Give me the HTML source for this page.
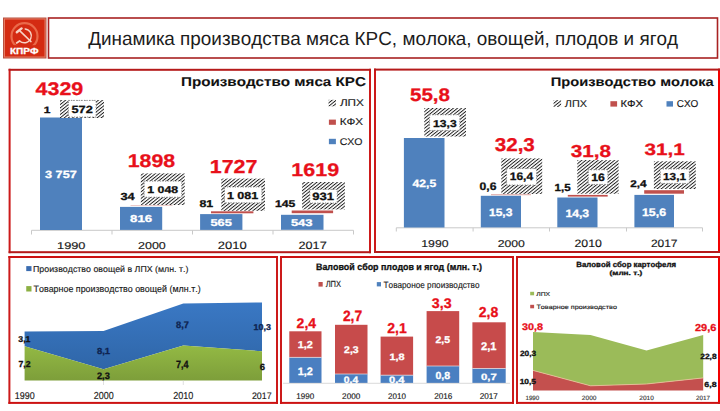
<!DOCTYPE html>
<html><head><meta charset="utf-8"><style>
html,body{margin:0;padding:0;background:#fff;width:720px;height:411px;overflow:hidden}
svg{display:block}
text{font-family:"Liberation Sans",sans-serif;font-kerning:none;text-rendering:geometricPrecision}
</style></head><body>
<svg width="720" height="411" viewBox="0 0 720 411">
<rect width="720" height="411" fill="#fff"/>
<rect x="3.00" y="17.50" width="43.50" height="41.00" fill="#b9503f"/>
<rect x="4.00" y="18.50" width="41.50" height="39.00" fill="#e77a62"/>
<rect x="5.00" y="19.50" width="39.50" height="37.00" fill="#d42b12"/>
<circle cx="24.5" cy="36.2" r="13" fill="none" stroke="#ea6a4a" stroke-width="2.2"/>
<rect x="6.00" y="45.20" width="37.00" height="10.80" fill="#d42b12"/>
<g stroke="#f7d3c5" fill="none" stroke-linecap="round"><path d="M16.8 32.2 L21.6 28.4" stroke-width="2.4"/><path d="M19.6 30.6 L31 41.6" stroke-width="1.5"/><path d="M25.2 28.9 A 7 7 0 1 1 19.6 41" stroke-width="1.5"/><path d="M19.6 41 L16.6 43" stroke-width="1.6"/></g>
<text x="10.03" y="53.70" font-size="8.84" font-weight="bold" fill="#ffffff" textLength="28.52" lengthAdjust="spacingAndGlyphs" stroke="#ffffff" stroke-width="0.3">КПРФ</text>
<rect x="48.50" y="18.00" width="669.00" height="40.00" fill="none" stroke="#a82222" stroke-width="1.6"/>
<text x="88.16" y="45.40" font-size="18.99" font-weight="normal" fill="#1c1c1c" textLength="589.96" lengthAdjust="spacingAndGlyphs" stroke="none">Динамика производства мяса КРС, молока, овощей, плодов и ягод</text>
<rect x="8.60" y="68.80" width="2.00" height="184.40" fill="#cc1a1a"/>
<rect x="369.00" y="68.80" width="2.00" height="184.40" fill="#cc1a1a"/>
<rect x="8.60" y="68.80" width="362.40" height="2.00" fill="#b51a1a"/>
<rect x="8.60" y="251.20" width="362.40" height="2.00" fill="#b51a1a"/>
<rect x="374.00" y="68.60" width="2.00" height="184.40" fill="#cc1a1a"/>
<rect x="718.00" y="68.60" width="2.00" height="184.40" fill="#f20000"/>
<rect x="374.00" y="68.60" width="346.00" height="2.00" fill="#b51a1a"/>
<rect x="374.00" y="251.00" width="346.00" height="2.00" fill="#b51a1a"/>
<rect x="8.40" y="256.00" width="2.00" height="147.90" fill="#cc1a1a"/>
<rect x="276.00" y="256.00" width="2.00" height="147.90" fill="#cc1a1a"/>
<rect x="8.40" y="256.00" width="269.60" height="2.00" fill="#cc1212"/>
<rect x="8.40" y="401.90" width="269.60" height="2.00" fill="#cc1212"/>
<rect x="280.00" y="256.00" width="2.00" height="147.90" fill="#cc1a1a"/>
<rect x="512.00" y="256.00" width="2.00" height="147.90" fill="#cc1a1a"/>
<rect x="280.00" y="256.00" width="234.00" height="2.00" fill="#cc1212"/>
<rect x="280.00" y="401.90" width="234.00" height="2.00" fill="#cc1212"/>
<rect x="516.00" y="256.00" width="2.00" height="147.90" fill="#cc1a1a"/>
<rect x="718.00" y="256.00" width="2.00" height="147.90" fill="#f20000"/>
<rect x="516.00" y="256.00" width="204.00" height="2.00" fill="#cc1212"/>
<rect x="516.00" y="401.90" width="204.00" height="2.00" fill="#cc1212"/>
<defs><pattern id="hp" width="2.58" height="20" patternUnits="userSpaceOnUse" patternTransform="rotate(51)"><rect width="0.95" height="20" fill="#1c1c1c"/></pattern></defs>
<text x="180.98" y="86.40" font-size="12.75" font-weight="bold" fill="#111" textLength="184.93" lengthAdjust="spacingAndGlyphs" stroke="#111" stroke-width="0.1">Производство мяса КРС</text>
<rect x="328.50" y="99.80" width="7.50" height="6.50" fill="#ffffff"/>
<rect x="328.50" y="99.80" width="7.50" height="6.50" fill="url(#hp)"/>
<rect x="328.50" y="99.80" width="7.50" height="6.50" fill="#fff" opacity="0"/>
<text x="339.90" y="106.30" font-size="9.86" font-weight="normal" fill="#1a1a1a" textLength="24.05" lengthAdjust="spacingAndGlyphs" stroke="#1a1a1a" stroke-width="0.15">ЛПХ</text>
<rect x="328.90" y="119.60" width="7.00" height="5.20" fill="#c0504d"/>
<text x="339.74" y="125.40" font-size="9.71" font-weight="normal" fill="#1a1a1a" textLength="23.40" lengthAdjust="spacingAndGlyphs" stroke="#1a1a1a" stroke-width="0.15">КФХ</text>
<rect x="328.90" y="138.80" width="7.00" height="5.40" fill="#4f81bd"/>
<text x="339.66" y="144.80" font-size="9.71" font-weight="normal" fill="#1a1a1a" textLength="22.84" lengthAdjust="spacingAndGlyphs" stroke="#1a1a1a" stroke-width="0.15">СХО</text>
<line x1="31.50" y1="230.30" x2="353.50" y2="230.30" stroke="#c9c9c9" stroke-width="1"/>
<line x1="31.50" y1="230.30" x2="31.50" y2="234.50" stroke="#c9c9c9" stroke-width="1"/>
<line x1="112.00" y1="230.30" x2="112.00" y2="234.50" stroke="#c9c9c9" stroke-width="1"/>
<line x1="192.50" y1="230.30" x2="192.50" y2="234.50" stroke="#c9c9c9" stroke-width="1"/>
<line x1="273.00" y1="230.30" x2="273.00" y2="234.50" stroke="#c9c9c9" stroke-width="1"/>
<line x1="353.50" y1="230.30" x2="353.50" y2="234.50" stroke="#c9c9c9" stroke-width="1"/>
<rect x="40.00" y="117.50" width="42.00" height="112.50" fill="#4f81bd"/>
<rect x="60.00" y="100.00" width="44.00" height="18.00" fill="#ffffff"/>
<rect x="60.00" y="100.00" width="44.00" height="18.00" fill="url(#hp)"/>
<rect x="68.40" y="100.40" width="27.60" height="16.60" fill="#ffffff" stroke="#7a7a7a" stroke-width="0.9" stroke-dasharray="1.1 1.5"/>
<text x="71.51" y="113.10" font-size="10.43" font-weight="bold" fill="#111" textLength="21.30" lengthAdjust="spacingAndGlyphs" stroke="#111" stroke-width="0.3">572</text>
<text x="43.84" y="113.30" font-size="9.28" font-weight="bold" fill="#111" textLength="6.69" lengthAdjust="spacingAndGlyphs" stroke="#111" stroke-width="0.3">1</text>
<text x="45.01" y="177.90" font-size="10.43" font-weight="bold" fill="#fff" textLength="31.75" lengthAdjust="spacingAndGlyphs" stroke="#fff" stroke-width="0.3">3 757</text>
<text x="35.58" y="95.00" font-size="18.26" font-weight="bold" fill="#e8101a" textLength="47.72" lengthAdjust="spacingAndGlyphs" stroke="#e8101a" stroke-width="0.3">4329</text>
<rect x="120.00" y="206.90" width="42.20" height="23.00" fill="#4f81bd"/>
<rect x="130.50" y="205.00" width="42.00" height="1.00" fill="#c0504d" opacity="0.3"/>
<rect x="140.80" y="173.40" width="43.90" height="31.60" fill="#ffffff"/>
<rect x="140.80" y="173.40" width="43.90" height="31.60" fill="url(#hp)"/>
<rect x="144.20" y="181.10" width="37.50" height="16.10" fill="#ffffff" stroke="#7a7a7a" stroke-width="0.9" stroke-dasharray="1.1 1.5"/>
<text x="147.32" y="192.80" font-size="9.86" font-weight="bold" fill="#111" textLength="30.86" lengthAdjust="spacingAndGlyphs" stroke="#111" stroke-width="0.3">1 048</text>
<text x="120.51" y="199.70" font-size="10.29" font-weight="bold" fill="#111" textLength="14.16" lengthAdjust="spacingAndGlyphs" stroke="#111" stroke-width="0.3">34</text>
<text x="130.08" y="222.00" font-size="10.00" font-weight="bold" fill="#fff" textLength="22.10" lengthAdjust="spacingAndGlyphs" stroke="#fff" stroke-width="0.3">816</text>
<text x="127.76" y="166.70" font-size="18.41" font-weight="bold" fill="#e8101a" textLength="47.40" lengthAdjust="spacingAndGlyphs" stroke="#e8101a" stroke-width="0.3">1898</text>
<rect x="200.10" y="214.10" width="42.30" height="15.80" fill="#4f81bd"/>
<rect x="211.00" y="211.30" width="42.40" height="2.00" fill="#c0504d"/>
<rect x="221.30" y="178.60" width="43.70" height="32.20" fill="#ffffff"/>
<rect x="221.30" y="178.60" width="43.70" height="32.20" fill="url(#hp)"/>
<rect x="224.50" y="187.00" width="37.30" height="15.80" fill="#ffffff" stroke="#7a7a7a" stroke-width="0.9" stroke-dasharray="1.1 1.5"/>
<text x="226.91" y="198.80" font-size="10.14" font-weight="bold" fill="#111" textLength="31.34" lengthAdjust="spacingAndGlyphs" stroke="#111" stroke-width="0.3">1 081</text>
<text x="199.41" y="206.50" font-size="9.86" font-weight="bold" fill="#111" textLength="13.74" lengthAdjust="spacingAndGlyphs" stroke="#111" stroke-width="0.3">81</text>
<text x="210.40" y="225.70" font-size="10.00" font-weight="bold" fill="#fff" textLength="21.45" lengthAdjust="spacingAndGlyphs" stroke="#fff" stroke-width="0.3">565</text>
<text x="209.75" y="173.00" font-size="18.84" font-weight="bold" fill="#e8101a" textLength="47.69" lengthAdjust="spacingAndGlyphs" stroke="#e8101a" stroke-width="0.3">1727</text>
<rect x="281.00" y="214.80" width="42.50" height="15.00" fill="#4f81bd"/>
<rect x="291.70" y="210.50" width="41.40" height="2.70" fill="#c0504d"/>
<rect x="302.10" y="182.00" width="42.80" height="27.40" fill="#ffffff"/>
<rect x="302.10" y="182.00" width="42.80" height="27.40" fill="url(#hp)"/>
<rect x="309.80" y="189.50" width="27.40" height="13.50" fill="#ffffff" stroke="#7a7a7a" stroke-width="0.9" stroke-dasharray="1.1 1.5"/>
<text x="312.15" y="199.70" font-size="10.58" font-weight="bold" fill="#111" textLength="21.82" lengthAdjust="spacingAndGlyphs" stroke="#111" stroke-width="0.3">931</text>
<text x="275.03" y="206.60" font-size="9.71" font-weight="bold" fill="#111" textLength="20.41" lengthAdjust="spacingAndGlyphs" stroke="#111" stroke-width="0.3">145</text>
<text x="290.90" y="225.50" font-size="9.71" font-weight="bold" fill="#fff" textLength="21.67" lengthAdjust="spacingAndGlyphs" stroke="#fff" stroke-width="0.3">543</text>
<text x="291.35" y="175.90" font-size="18.41" font-weight="bold" fill="#e8101a" textLength="47.75" lengthAdjust="spacingAndGlyphs" stroke="#e8101a" stroke-width="0.3">1619</text>
<text x="57.02" y="248.70" font-size="9.86" font-weight="normal" fill="#1a1a1a" textLength="28.47" lengthAdjust="spacingAndGlyphs" stroke="#1a1a1a" stroke-width="0.15">1990</text>
<text x="137.97" y="248.60" font-size="10.00" font-weight="normal" fill="#1a1a1a" textLength="27.82" lengthAdjust="spacingAndGlyphs" stroke="#1a1a1a" stroke-width="0.15">2000</text>
<text x="217.85" y="249.00" font-size="10.72" font-weight="normal" fill="#1a1a1a" textLength="28.96" lengthAdjust="spacingAndGlyphs" stroke="#1a1a1a" stroke-width="0.15">2010</text>
<text x="298.56" y="249.00" font-size="10.72" font-weight="normal" fill="#1a1a1a" textLength="28.17" lengthAdjust="spacingAndGlyphs" stroke="#1a1a1a" stroke-width="0.15">2017</text>
<text x="550.77" y="86.20" font-size="12.46" font-weight="bold" fill="#111" textLength="162.94" lengthAdjust="spacingAndGlyphs" stroke="#111" stroke-width="0.1">Производство молока</text>
<rect x="553.60" y="100.10" width="7.50" height="6.90" fill="#ffffff"/>
<rect x="553.60" y="100.10" width="7.50" height="6.90" fill="url(#hp)"/>
<text x="564.80" y="107.20" font-size="9.86" font-weight="normal" fill="#1a1a1a" textLength="22.17" lengthAdjust="spacingAndGlyphs" stroke="#1a1a1a" stroke-width="0.15">ЛПХ</text>
<rect x="610.40" y="101.20" width="6.70" height="5.40" fill="#c0504d"/>
<text x="620.48" y="107.30" font-size="10.00" font-weight="normal" fill="#1a1a1a" textLength="22.56" lengthAdjust="spacingAndGlyphs" stroke="#1a1a1a" stroke-width="0.15">КФХ</text>
<rect x="666.50" y="101.20" width="6.50" height="5.40" fill="#4f81bd"/>
<text x="676.69" y="107.30" font-size="10.00" font-weight="normal" fill="#1a1a1a" textLength="21.58" lengthAdjust="spacingAndGlyphs" stroke="#1a1a1a" stroke-width="0.15">СХО</text>
<line x1="396.30" y1="227.80" x2="702.50" y2="227.80" stroke="#c9c9c9" stroke-width="1"/>
<line x1="396.30" y1="227.80" x2="396.30" y2="231.50" stroke="#c9c9c9" stroke-width="1"/>
<line x1="473.10" y1="227.80" x2="473.10" y2="231.50" stroke="#c9c9c9" stroke-width="1"/>
<line x1="549.50" y1="227.80" x2="549.50" y2="231.50" stroke="#c9c9c9" stroke-width="1"/>
<line x1="626.50" y1="227.80" x2="626.50" y2="231.50" stroke="#c9c9c9" stroke-width="1"/>
<line x1="702.50" y1="227.80" x2="702.50" y2="231.50" stroke="#c9c9c9" stroke-width="1"/>
<rect x="403.90" y="138.00" width="40.60" height="89.50" fill="#4f81bd"/>
<rect x="424.30" y="108.00" width="41.70" height="28.50" fill="#ffffff"/>
<rect x="424.30" y="108.00" width="41.70" height="28.50" fill="url(#hp)"/>
<rect x="429.60" y="114.80" width="30.20" height="15.60" fill="#ffffff" stroke="#7a7a7a" stroke-width="0.9" stroke-dasharray="1.1 1.5"/>
<text x="433.04" y="126.80" font-size="10.00" font-weight="bold" fill="#111" textLength="23.60" lengthAdjust="spacingAndGlyphs" stroke="#111" stroke-width="0.3">13,3</text>
<text x="412.62" y="186.70" font-size="10.58" font-weight="bold" fill="#fff" textLength="23.62" lengthAdjust="spacingAndGlyphs" stroke="#fff" stroke-width="0.3">42,5</text>
<text x="409.97" y="101.00" font-size="18.12" font-weight="bold" fill="#e8101a" textLength="40.07" lengthAdjust="spacingAndGlyphs" stroke="#e8101a" stroke-width="0.3">55,8</text>
<rect x="480.80" y="195.80" width="40.20" height="31.60" fill="#4f81bd"/>
<rect x="491.00" y="194.20" width="40.00" height="1.00" fill="#c0504d" opacity="0.5"/>
<rect x="501.30" y="158.40" width="40.90" height="35.50" fill="#ffffff"/>
<rect x="501.30" y="158.40" width="40.90" height="35.50" fill="url(#hp)"/>
<rect x="506.60" y="168.60" width="30.00" height="16.40" fill="#ffffff" stroke="#7a7a7a" stroke-width="0.9" stroke-dasharray="1.1 1.5"/>
<text x="509.75" y="180.40" font-size="10.87" font-weight="bold" fill="#111" textLength="23.32" lengthAdjust="spacingAndGlyphs" stroke="#111" stroke-width="0.3">16,4</text>
<text x="479.62" y="189.70" font-size="10.87" font-weight="bold" fill="#111" textLength="16.92" lengthAdjust="spacingAndGlyphs" stroke="#111" stroke-width="0.3">0,6</text>
<text x="488.99" y="215.70" font-size="10.72" font-weight="bold" fill="#fff" textLength="23.44" lengthAdjust="spacingAndGlyphs" stroke="#fff" stroke-width="0.3">15,3</text>
<text x="494.73" y="150.60" font-size="18.55" font-weight="bold" fill="#e8101a" textLength="40.12" lengthAdjust="spacingAndGlyphs" stroke="#e8101a" stroke-width="0.3">32,3</text>
<rect x="557.30" y="197.50" width="40.20" height="29.80" fill="#4f81bd"/>
<rect x="567.80" y="194.90" width="39.90" height="1.70" fill="#c0504d"/>
<rect x="577.30" y="160.10" width="41.30" height="33.60" fill="#ffffff"/>
<rect x="577.30" y="160.10" width="41.30" height="33.60" fill="url(#hp)"/>
<rect x="588.30" y="169.80" width="19.50" height="14.60" fill="#ffffff" stroke="#7a7a7a" stroke-width="0.9" stroke-dasharray="1.1 1.5"/>
<text x="591.22" y="181.30" font-size="10.72" font-weight="bold" fill="#111" textLength="13.72" lengthAdjust="spacingAndGlyphs" stroke="#111" stroke-width="0.3">16</text>
<text x="554.57" y="190.60" font-size="10.29" font-weight="bold" fill="#111" textLength="16.05" lengthAdjust="spacingAndGlyphs" stroke="#111" stroke-width="0.3">1,5</text>
<text x="565.43" y="216.70" font-size="10.72" font-weight="bold" fill="#fff" textLength="23.71" lengthAdjust="spacingAndGlyphs" stroke="#fff" stroke-width="0.3">14,3</text>
<text x="570.72" y="156.60" font-size="17.39" font-weight="bold" fill="#e8101a" textLength="40.31" lengthAdjust="spacingAndGlyphs" stroke="#e8101a" stroke-width="0.3">31,8</text>
<rect x="634.40" y="194.90" width="39.60" height="32.40" fill="#4f81bd"/>
<rect x="644.20" y="190.20" width="39.80" height="3.50" fill="#c0504d"/>
<rect x="653.90" y="161.30" width="41.90" height="27.70" fill="#ffffff"/>
<rect x="653.90" y="161.30" width="41.90" height="27.70" fill="url(#hp)"/>
<rect x="660.30" y="169.00" width="29.00" height="14.40" fill="#ffffff" stroke="#7a7a7a" stroke-width="0.9" stroke-dasharray="1.1 1.5"/>
<text x="663.06" y="179.70" font-size="10.14" font-weight="bold" fill="#111" textLength="22.97" lengthAdjust="spacingAndGlyphs" stroke="#111" stroke-width="0.3">13,1</text>
<text x="630.29" y="187.00" font-size="9.86" font-weight="bold" fill="#111" textLength="16.37" lengthAdjust="spacingAndGlyphs" stroke="#111" stroke-width="0.3">2,4</text>
<text x="641.92" y="215.80" font-size="11.01" font-weight="bold" fill="#fff" textLength="24.13" lengthAdjust="spacingAndGlyphs" stroke="#fff" stroke-width="0.3">15,6</text>
<text x="644.53" y="154.60" font-size="16.38" font-weight="bold" fill="#e8101a" textLength="40.25" lengthAdjust="spacingAndGlyphs" stroke="#e8101a" stroke-width="0.3">31,1</text>
<text x="421.32" y="246.90" font-size="10.00" font-weight="normal" fill="#1a1a1a" textLength="27.26" lengthAdjust="spacingAndGlyphs" stroke="#1a1a1a" stroke-width="0.15">1990</text>
<text x="497.69" y="246.80" font-size="9.86" font-weight="normal" fill="#1a1a1a" textLength="27.19" lengthAdjust="spacingAndGlyphs" stroke="#1a1a1a" stroke-width="0.15">2000</text>
<text x="574.48" y="247.20" font-size="10.72" font-weight="normal" fill="#1a1a1a" textLength="27.40" lengthAdjust="spacingAndGlyphs" stroke="#1a1a1a" stroke-width="0.15">2010</text>
<text x="650.90" y="247.20" font-size="10.72" font-weight="normal" fill="#1a1a1a" textLength="26.60" lengthAdjust="spacingAndGlyphs" stroke="#1a1a1a" stroke-width="0.15">2017</text>
<rect x="26.25" y="266.10" width="5.25" height="5.00" fill="#3a6cb0"/>
<text x="33.03" y="271.60" font-size="8.70" font-weight="normal" fill="#1a1a1a" textLength="155.41" lengthAdjust="spacingAndGlyphs" stroke="#1a1a1a" stroke-width="0.15">Производство овощей в ЛПХ (млн. т.)</text>
<rect x="26.25" y="286.10" width="5.25" height="5.40" fill="#8cb043"/>
<text x="33.55" y="292.00" font-size="9.28" font-weight="normal" fill="#1a1a1a" textLength="167.10" lengthAdjust="spacingAndGlyphs" stroke="#1a1a1a" stroke-width="0.15">Товарное производство овощей (млн.т.)</text>
<defs><linearGradient id="gg3" x1="0" y1="0" x2="0" y2="1"><stop offset="0" stop-color="#93b944"/><stop offset="1" stop-color="#7d9e3a"/></linearGradient><linearGradient id="bg3" x1="0" y1="0" x2="0" y2="1"><stop offset="0" stop-color="#3a78c4"/><stop offset="1" stop-color="#2f66a8"/></linearGradient></defs>
<polygon points="24.60,331.60 103.50,331.10 183.30,303.50 262.00,302.50 262.00,351.30 183.30,345.60 103.50,369.20 24.60,346.20" fill="url(#bg3)"/>
<polygon points="24.60,346.20 103.50,369.20 183.30,345.60 262.00,351.30 262.00,380.60 24.60,380.60" fill="url(#gg3)"/>
<line x1="103.50" y1="380.60" x2="103.50" y2="385.00" stroke="#d8d8d8" stroke-width="0.8"/>
<line x1="183.30" y1="380.60" x2="183.30" y2="385.00" stroke="#d8d8d8" stroke-width="0.8"/>
<text x="18.30" y="342.30" font-size="8.41" font-weight="bold" fill="#111" textLength="12.14" lengthAdjust="spacingAndGlyphs" stroke="#111" stroke-width="0.3">3,1</text>
<text x="18.53" y="367.20" font-size="8.70" font-weight="bold" fill="#111" textLength="12.02" lengthAdjust="spacingAndGlyphs" stroke="#111" stroke-width="0.3">7,2</text>
<text x="97.00" y="353.90" font-size="8.84" font-weight="bold" fill="#0e2350" textLength="13.06" lengthAdjust="spacingAndGlyphs" stroke="#0e2350" stroke-width="0.3">8,1</text>
<text x="96.98" y="378.90" font-size="9.42" font-weight="bold" fill="#111" textLength="12.85" lengthAdjust="spacingAndGlyphs" stroke="#111" stroke-width="0.3">2,3</text>
<text x="176.11" y="327.80" font-size="9.42" font-weight="bold" fill="#0e2350" textLength="12.80" lengthAdjust="spacingAndGlyphs" stroke="#0e2350" stroke-width="0.3">8,7</text>
<text x="176.01" y="367.50" font-size="10.58" font-weight="bold" fill="#111" textLength="12.54" lengthAdjust="spacingAndGlyphs" stroke="#111" stroke-width="0.3">7,4</text>
<text x="253.64" y="330.00" font-size="8.55" font-weight="bold" fill="#0e2350" textLength="17.39" lengthAdjust="spacingAndGlyphs" stroke="#0e2350" stroke-width="0.3">10,3</text>
<text x="259.65" y="370.20" font-size="9.13" font-weight="bold" fill="#111" textLength="5.29" lengthAdjust="spacingAndGlyphs" stroke="#111" stroke-width="0.3">6</text>
<text x="14.82" y="398.80" font-size="9.86" font-weight="normal" fill="#1a1a1a" textLength="19.93" lengthAdjust="spacingAndGlyphs" stroke="#1a1a1a" stroke-width="0.15">1990</text>
<text x="93.75" y="398.70" font-size="10.14" font-weight="normal" fill="#1a1a1a" textLength="19.90" lengthAdjust="spacingAndGlyphs" stroke="#1a1a1a" stroke-width="0.15">2000</text>
<text x="173.25" y="398.70" font-size="10.14" font-weight="normal" fill="#1a1a1a" textLength="20.11" lengthAdjust="spacingAndGlyphs" stroke="#1a1a1a" stroke-width="0.15">2010</text>
<text x="251.95" y="398.50" font-size="9.42" font-weight="normal" fill="#1a1a1a" textLength="19.69" lengthAdjust="spacingAndGlyphs" stroke="#1a1a1a" stroke-width="0.15">2017</text>
<text x="316.01" y="270.00" font-size="9.28" font-weight="bold" fill="#111" textLength="165.94" lengthAdjust="spacingAndGlyphs" stroke="#111" stroke-width="0.3">Валовой сбор плодов и ягод (млн. т.)</text>
<rect x="318.50" y="282.00" width="4.20" height="4.60" fill="#c0504d"/>
<text x="325.63" y="287.30" font-size="8.84" font-weight="normal" fill="#1a1a1a" textLength="15.42" lengthAdjust="spacingAndGlyphs" stroke="#1a1a1a" stroke-width="0.15">ЛПХ</text>
<rect x="376.80" y="282.10" width="4.20" height="4.30" fill="#4f81bd"/>
<text x="383.57" y="287.50" font-size="8.99" font-weight="normal" fill="#1a1a1a" textLength="95.88" lengthAdjust="spacingAndGlyphs" stroke="#1a1a1a" stroke-width="0.15">Товароное рпоизводство</text>
<rect x="289.30" y="331.30" width="32.20" height="26.10" fill="#c74b4b"/>
<rect x="289.30" y="357.40" width="32.20" height="25.60" fill="#4a7fc1"/>
<line x1="289.30" y1="357.40" x2="321.50" y2="357.40" stroke="#f0e0e0" stroke-width="0.7"/>
<rect x="335.00" y="324.80" width="32.50" height="49.20" fill="#c74b4b"/>
<rect x="335.00" y="374.00" width="32.50" height="9.00" fill="#4a7fc1"/>
<line x1="335.00" y1="374.00" x2="367.50" y2="374.00" stroke="#f0e0e0" stroke-width="0.7"/>
<rect x="380.60" y="336.60" width="32.50" height="38.60" fill="#c74b4b"/>
<rect x="380.60" y="375.20" width="32.50" height="7.80" fill="#4a7fc1"/>
<line x1="380.60" y1="375.20" x2="413.10" y2="375.20" stroke="#f0e0e0" stroke-width="0.7"/>
<rect x="426.60" y="311.10" width="32.60" height="54.90" fill="#c74b4b"/>
<rect x="426.60" y="366.00" width="32.60" height="17.00" fill="#4a7fc1"/>
<line x1="426.60" y1="366.00" x2="459.20" y2="366.00" stroke="#f0e0e0" stroke-width="0.7"/>
<rect x="472.40" y="322.30" width="33.30" height="46.20" fill="#c74b4b"/>
<rect x="472.40" y="368.50" width="33.30" height="14.50" fill="#4a7fc1"/>
<line x1="472.40" y1="368.50" x2="505.70" y2="368.50" stroke="#f0e0e0" stroke-width="0.7"/>
<line x1="283.00" y1="383.30" x2="510.00" y2="383.30" stroke="#d0d0d0" stroke-width="0.8"/>
<text x="296.61" y="327.50" font-size="14.06" font-weight="bold" fill="#e8101a" textLength="19.46" lengthAdjust="spacingAndGlyphs" stroke="#e8101a" stroke-width="0.3">2,4</text>
<text x="297.71" y="348.30" font-size="10.00" font-weight="bold" fill="#fff" textLength="15.12" lengthAdjust="spacingAndGlyphs" stroke="#fff" stroke-width="0.3">1,2</text>
<text x="297.71" y="374.80" font-size="10.72" font-weight="bold" fill="#fff" textLength="15.12" lengthAdjust="spacingAndGlyphs" stroke="#fff" stroke-width="0.3">1,2</text>
<text x="342.92" y="321.40" font-size="14.93" font-weight="bold" fill="#e8101a" textLength="19.29" lengthAdjust="spacingAndGlyphs" stroke="#e8101a" stroke-width="0.3">2,7</text>
<text x="344.14" y="352.80" font-size="9.71" font-weight="bold" fill="#fff" textLength="14.44" lengthAdjust="spacingAndGlyphs" stroke="#fff" stroke-width="0.3">2,3</text>
<text x="343.89" y="383.00" font-size="9.42" font-weight="bold" fill="#fff" textLength="14.36" lengthAdjust="spacingAndGlyphs" stroke="#fff" stroke-width="0.3">0,4</text>
<text x="387.31" y="333.30" font-size="14.35" font-weight="bold" fill="#e8101a" textLength="19.48" lengthAdjust="spacingAndGlyphs" stroke="#e8101a" stroke-width="0.3">2,1</text>
<text x="389.41" y="360.10" font-size="9.28" font-weight="bold" fill="#fff" textLength="15.12" lengthAdjust="spacingAndGlyphs" stroke="#fff" stroke-width="0.3">1,8</text>
<text x="389.06" y="383.00" font-size="9.42" font-weight="bold" fill="#fff" textLength="15.50" lengthAdjust="spacingAndGlyphs" stroke="#fff" stroke-width="0.3">0,4</text>
<text x="431.87" y="307.50" font-size="14.06" font-weight="bold" fill="#e8101a" textLength="19.74" lengthAdjust="spacingAndGlyphs" stroke="#e8101a" stroke-width="0.3">3,3</text>
<text x="435.54" y="343.00" font-size="9.86" font-weight="bold" fill="#fff" textLength="14.55" lengthAdjust="spacingAndGlyphs" stroke="#fff" stroke-width="0.3">2,5</text>
<text x="435.48" y="379.30" font-size="10.29" font-weight="bold" fill="#fff" textLength="14.64" lengthAdjust="spacingAndGlyphs" stroke="#fff" stroke-width="0.3">0,8</text>
<text x="478.71" y="317.30" font-size="14.35" font-weight="bold" fill="#e8101a" textLength="19.52" lengthAdjust="spacingAndGlyphs" stroke="#e8101a" stroke-width="0.3">2,8</text>
<text x="481.01" y="349.90" font-size="11.16" font-weight="bold" fill="#fff" textLength="15.50" lengthAdjust="spacingAndGlyphs" stroke="#fff" stroke-width="0.3">2,1</text>
<text x="480.95" y="380.00" font-size="9.13" font-weight="bold" fill="#fff" textLength="15.75" lengthAdjust="spacingAndGlyphs" stroke="#fff" stroke-width="0.3">0,7</text>
<text x="296.19" y="398.50" font-size="8.26" font-weight="normal" fill="#1a1a1a" textLength="17.93" lengthAdjust="spacingAndGlyphs" stroke="#1a1a1a" stroke-width="0.15">1990</text>
<text x="342.09" y="398.50" font-size="8.26" font-weight="normal" fill="#1a1a1a" textLength="18.23" lengthAdjust="spacingAndGlyphs" stroke="#1a1a1a" stroke-width="0.15">2000</text>
<text x="388.10" y="398.50" font-size="8.26" font-weight="normal" fill="#1a1a1a" textLength="17.82" lengthAdjust="spacingAndGlyphs" stroke="#1a1a1a" stroke-width="0.15">2010</text>
<text x="434.19" y="398.80" font-size="8.41" font-weight="normal" fill="#1a1a1a" textLength="18.17" lengthAdjust="spacingAndGlyphs" stroke="#1a1a1a" stroke-width="0.15">2016</text>
<text x="479.69" y="398.80" font-size="8.41" font-weight="normal" fill="#1a1a1a" textLength="18.22" lengthAdjust="spacingAndGlyphs" stroke="#1a1a1a" stroke-width="0.15">2017</text>
<text x="576.38" y="266.60" font-size="7.54" font-weight="bold" fill="#111" textLength="99.57" lengthAdjust="spacingAndGlyphs" stroke="#111" stroke-width="0.3">Валовой сбор картофеля</text>
<text x="609.59" y="275.30" font-size="6.23" font-weight="bold" fill="#111" textLength="32.62" lengthAdjust="spacingAndGlyphs" stroke="#111" stroke-width="0.3">(млн. т.)</text>
<rect x="530.20" y="291.80" width="3.90" height="3.50" fill="#9bbb59"/>
<text x="536.24" y="295.70" font-size="5.65" font-weight="normal" fill="#1a1a1a" textLength="13.80" lengthAdjust="spacingAndGlyphs" stroke="#1a1a1a" stroke-width="0.15">ЛПХ</text>
<rect x="530.20" y="304.80" width="3.90" height="3.50" fill="#c0504d"/>
<text x="536.44" y="308.70" font-size="6.09" font-weight="normal" fill="#1a1a1a" textLength="80.47" lengthAdjust="spacingAndGlyphs" stroke="#1a1a1a" stroke-width="0.15">Товарное производство</text>
<polygon points="533.00,332.00 590.50,334.90 646.50,350.60 703.20,334.90 703.20,377.90 646.50,384.00 590.50,385.80 533.00,370.40" fill="#9bbb59"/>
<polygon points="533.00,370.40 590.50,385.80 646.50,384.00 703.20,377.90 703.20,390.60 533.00,390.60" fill="#c4504e"/>
<polyline points="533.00,370.40 590.50,385.80 646.50,384.00 703.20,377.90" fill="none" stroke="#e8c89a" stroke-width="0.8"/>
<text x="522.05" y="329.60" font-size="9.57" font-weight="bold" fill="#e8101a" textLength="20.98" lengthAdjust="spacingAndGlyphs" stroke="#e8101a" stroke-width="0.3">30,8</text>
<text x="519.91" y="356.30" font-size="7.54" font-weight="bold" fill="#111" textLength="16.19" lengthAdjust="spacingAndGlyphs" stroke="#111" stroke-width="0.3">20,3</text>
<text x="519.67" y="383.60" font-size="7.39" font-weight="bold" fill="#111" textLength="16.36" lengthAdjust="spacingAndGlyphs" stroke="#111" stroke-width="0.3">10,5</text>
<text x="695.02" y="331.40" font-size="10.00" font-weight="bold" fill="#e8101a" textLength="21.38" lengthAdjust="spacingAndGlyphs" stroke="#e8101a" stroke-width="0.3">29,6</text>
<text x="700.21" y="359.30" font-size="7.54" font-weight="bold" fill="#111" textLength="16.45" lengthAdjust="spacingAndGlyphs" stroke="#111" stroke-width="0.3">22,8</text>
<text x="704.38" y="387.10" font-size="7.39" font-weight="bold" fill="#111" textLength="12.30" lengthAdjust="spacingAndGlyphs" stroke="#111" stroke-width="0.3">6,8</text>
<text x="525.42" y="400.10" font-size="6.23" font-weight="normal" fill="#3a3a3a" textLength="13.92" lengthAdjust="spacingAndGlyphs" stroke="#3a3a3a" stroke-width="0.15">1990</text>
<text x="581.87" y="400.10" font-size="6.23" font-weight="normal" fill="#3a3a3a" textLength="14.69" lengthAdjust="spacingAndGlyphs" stroke="#3a3a3a" stroke-width="0.15">2000</text>
<text x="639.27" y="400.10" font-size="6.23" font-weight="normal" fill="#3a3a3a" textLength="14.59" lengthAdjust="spacingAndGlyphs" stroke="#3a3a3a" stroke-width="0.15">2010</text>
<text x="696.08" y="400.10" font-size="6.23" font-weight="normal" fill="#3a3a3a" textLength="14.03" lengthAdjust="spacingAndGlyphs" stroke="#3a3a3a" stroke-width="0.15">2017</text>
</svg>
</body></html>
